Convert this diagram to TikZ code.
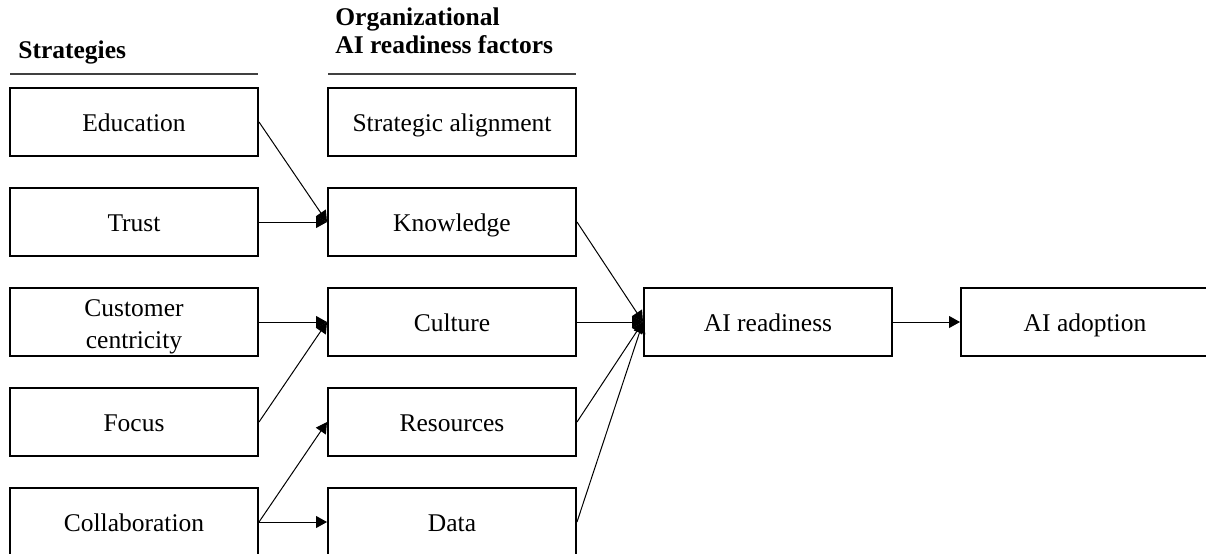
\documentclass[tikz,border=0pt]{standalone}
\usepackage{fontspec}
\setmainfont{Liberation Serif}
\usetikzlibrary{arrows.meta}
\begin{document}
\begin{tikzpicture}[x=0.5pt,y=-0.5pt,
  box/.style={draw, line width=1pt, minimum width=124pt, minimum height=34pt, inner sep=0pt, align=center,
    text height=12pt, text depth=2.3pt, font=\fontsize{12.75pt}{15.5pt}\selectfont},
  plain/.style={inner sep=0pt, align=center, font=\fontsize{12.75pt}{15.6pt}\selectfont},
  head/.style={anchor=base west, inner sep=0pt, font=\fontsize{12.75pt}{14pt}\selectfont\bfseries},
  rule/.style={draw=black!75, line width=0.8pt},
  conn/.style={line width=0.5pt, -{Triangle[length=5.5pt,width=6pt]}}]
\useasboundingbox (0,0) rectangle (1206,553);
% headers
\node[head] (hs) at (18,58) {Strategies};
\node[head] (ho1) at (335,25) {Organizational};
\node[head] (ho2) at (335,53) {AI readiness factors};
\coordinate (r1a) at (10,74); \coordinate (r1b) at (258,74);
\coordinate (r2a) at (328,74); \coordinate (r2b) at (576,74);
\draw[rule] (r1a) -- (r1b);
\draw[rule] (r2a) -- (r2b);
% left column
\node[box] (edu) at (134,122) {Education};
\node[box] (tru) at (134,222) {Trust};
\node[box] (cus) at (134,322) {};
\node[plain, anchor=base] (cust1) at (134,316.7) {Customer};
\node[plain, anchor=base] (cust2) at (134,348) {centricity};
\node[box] (foc) at (134,422) {Focus};
\node[box] (col) at (134,522) {Collaboration};
% middle column
\node[box] (str) at (452,122) {Strategic alignment};
\node[box] (kno) at (452,222) {Knowledge};
\node[box] (cul) at (452,322) {Culture};
\node[box] (res) at (452,422) {Resources};
\node[box] (dat) at (452,522) {Data};
% right
\node[box] (air) at (768,322) {AI readiness};
\node[box] (aia) at (1085,322) {AI adoption};
% connectors
\draw[conn] (edu.east) -- (kno.west);
\draw[conn] (tru.east) -- (kno.west);
\draw[conn] (cus.east) -- (cul.west);
\draw[conn] (foc.east) -- (cul.west);
\draw[conn] (col.east) -- (res.west);
\draw[conn] (col.east) -- (dat.west);
\draw[conn] (kno.east) -- (air.west);
\draw[conn] (cul.east) -- (air.west);
\draw[conn] (res.east) -- (air.west);
\draw[conn] (dat.east) -- (air.west);
\draw[conn] (air.east) -- (aia.west);
\end{tikzpicture}
\end{document}
